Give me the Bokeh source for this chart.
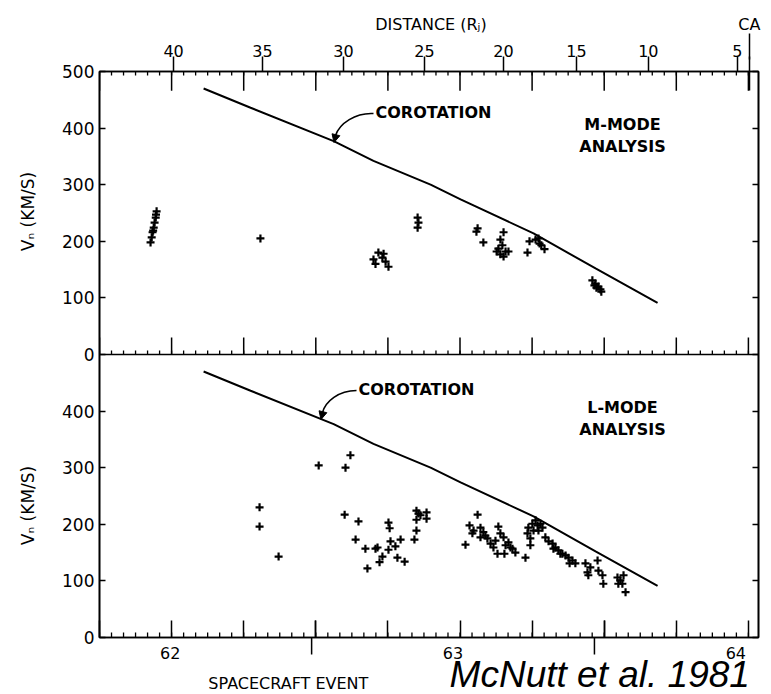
import numpy as np
from bokeh.plotting import figure
from bokeh.layouts import column
from bokeh.models import Range1d, LinearAxis, FixedTicker, Span, Label, Arrow, NormalHead
from bokeh.core.properties import value
from bokeh.embed import file_html
from bokeh.resources import INLINE

# ---------------- data ----------------
# corotation speed curve (spacecraft event [day], km/s)
corot_day = [62.111, 62.274, 62.562, 62.700, 62.898, 63.002, 63.255, 63.470, 63.685]
corot_v = [470, 436, 377, 342, 300, 274, 214, 152, 91]

# M-mode analysis (top panel)
m_day = [61.948, 61.946, 61.945, 61.941, 61.938, 61.936, 61.934, 61.931, 61.927,
         62.308,
         62.700, 62.707, 62.717, 62.731, 62.735, 62.742, 62.752,
         62.853, 62.856, 62.853,
         63.061, 63.057, 63.081, 63.151, 63.140, 63.147, 63.133, 63.158, 63.140,
         63.168, 63.151, 63.127, 63.234, 63.241, 63.262, 63.272, 63.282, 63.293, 63.276,
         63.459, 63.470, 63.480, 63.487, 63.473, 63.490, 63.466]
m_v = [253, 247, 242, 233, 224, 219, 216, 207, 198,
       205,
       168, 160, 180, 171, 178, 164, 155,
       242, 233, 224,
       223, 217, 198, 216, 203, 193, 187, 182, 177,
       182, 173, 182, 180, 200, 203, 205, 193, 186, 196,
       131, 125, 120, 115, 118, 111, 122]

# L-mode analysis (bottom panel)
l_day = [62.510, 62.603, 62.620, 62.305, 62.305, 62.371,
         62.600, 62.648, 62.638, 62.672, 62.714, 62.707, 62.752, 62.756, 62.759, 62.794,
         62.752, 62.776, 62.731, 62.721, 62.679, 62.783, 62.808,
         62.849, 62.856, 62.884, 62.884, 62.849, 62.849, 62.842, 62.863,
         63.061, 63.019, 63.033, 63.047, 63.071, 63.081, 63.095, 63.106, 63.116, 63.130,
         63.133, 63.140, 63.151, 63.158, 63.168, 63.182, 63.192, 63.154, 63.227, 63.071,
         63.088, 63.043, 63.123, 63.175,
         63.234, 63.237, 63.244, 63.251, 63.262, 63.269, 63.272, 63.279, 63.255, 63.244, 63.286,
         63.296, 63.307, 63.321, 63.331, 63.341, 63.355, 63.366, 63.376, 63.390, 63.400,
         63.380, 63.348, 63.324,
         63.435, 63.442, 63.452, 63.477, 63.480, 63.494, 63.497, 63.445,
         63.546, 63.556, 63.567, 63.563, 63.574, 63.549]
l_v = [304, 300, 322, 230, 196, 143,
       217, 205, 173, 157, 159, 157, 203, 193, 170, 173,
       155, 161, 143, 133, 122, 141, 134,
       224, 219, 221, 210, 208, 189, 173, 216,
       217, 164, 198, 189, 194, 186, 175, 166, 159, 148,
       196, 184, 177, 163, 168, 157, 150, 148, 141, 177,
       180, 184, 171, 159,
       184, 194, 175, 201, 207, 198, 189, 201, 189, 163, 194,
       177, 170, 166, 159, 154, 148, 145, 141, 136, 131,
       131, 148, 157,
       131, 115, 124, 136, 118, 110, 95, 110,
       106, 101, 110, 95, 80, 95]

# tick labels
y_ticks = [0, 100, 200, 300, 400, 500]
event_ticks = [62, 63, 64]
event_labels = ["62", "63", "64"]
dist_labels = ["40", "35", "30", "25", "20", "15", "10", "5"]
dist_pos = [62.007, 62.315, 62.596, 62.877, 63.151, 63.404, 63.653, 63.962]
ca_pos = 64.003

# ---------------- layout constants ----------------
X0, X1 = 61.75, 64.035
PXD = 288.4            # pixels per day
FONT = "DejaVu Sans"
MAIN_H = 652           # main canvas height (frame bottom at 637)
FOOT_TOP = 637         # footer strip overlaps the main canvas below the frame

six_h = [float(v) for v in np.arange(X0, 64.001, 0.25)]
hourly = [X0 + i / 24 for i in range(int((X1 - X0) * 24) + 1)]
crossing = [62.5, 63.5]
n6, nh = len(six_h), len(hourly)

# main figure: bottom panel on the default range (0..1000 -> lower half shows 0..500),
# top panel on the "top" range (-500..500 -> upper half shows 0..500)
p = figure(width=771, height=MAIN_H, x_range=Range1d(X0, X1), y_range=Range1d(0, 1000),
           output_backend="svg", toolbar_location=None,
           x_axis_location=None, y_axis_location=None,
           min_border_left=99, min_border_right=13, min_border_top=71,
           min_border_bottom=MAIN_H - 637)
p.extra_y_ranges = {"top": Range1d(-500, 500)}
p.grid.visible = False
p.outline_line_color = "black"
p.outline_line_width = 1.6
p.background_fill_color = "white"
p.border_fill_color = None


def style_ticks(ax, tin, tout, min_in=0, min_out=0):
    ax.major_tick_in = tin
    ax.major_tick_out = tout
    ax.minor_tick_in = min_in
    ax.minor_tick_out = min_out
    ax.major_tick_line_width = 1.5
    ax.minor_tick_line_width = 1.5
    ax.major_tick_line_color = "black"
    ax.minor_tick_line_color = "black"
    ax.axis_line_width = 1.6
    ax.axis_line_color = "black"
    ax.major_label_text_font = FONT
    ax.major_label_text_color = "black"


# left axis with both panels' scales
left_ticks = y_ticks[:-1] + [v + 500 for v in y_ticks]
left_over = {t: str(t) for t in y_ticks[:-1]}
left_over.update({v + 500: str(v) for v in y_ticks})
ax_l = LinearAxis(ticker=FixedTicker(ticks=left_ticks, minor_ticks=[]),
                  major_label_overrides=left_over)
style_ticks(ax_l, 6, 0)
ax_l.major_label_standoff = 5
ax_l.major_label_text_font_size = "17px"
p.add_layout(ax_l, "left")

# outer left axis carrying the two panel titles
vlab_pos = [(637 - 211) / 0.566, (637 - 505) / 0.566]
ax_l2 = LinearAxis(ticker=FixedTicker(ticks=vlab_pos, minor_ticks=[]),
                   major_label_overrides={v: "Vₙ (KM/S)" for v in vlab_pos})
style_ticks(ax_l2, 0, 0)
ax_l2.axis_line_color = None
ax_l2.major_label_orientation = "vertical"
ax_l2.major_label_standoff = 22
ax_l2.major_label_text_font_size = "17px"
p.add_layout(ax_l2, "left")

ax_r = LinearAxis(ticker=FixedTicker(ticks=left_ticks, minor_ticks=[]),
                  major_label_overrides={t: "" for t in left_ticks})
style_ticks(ax_r, 6, 0)
ax_r.major_label_standoff = 0
ax_r.major_label_text_font_size = "0px"
p.add_layout(ax_r, "right")

# top axis: distance ticks, closest-approach tick as minor tick
ax_t = LinearAxis(ticker=FixedTicker(ticks=dist_pos, minor_ticks=[ca_pos]),
                  major_label_overrides={pos: lab for pos, lab in zip(dist_pos, dist_labels)})
style_ticks(ax_t, 0, 15, 19, 15)
ax_t.major_label_standoff = 0
ax_t.major_label_text_font_size = "16px"
p.add_layout(ax_t, "above")

# header row: axis title + "CA" label (tick continues the CA mark)
dist_title_x = X0 + (433 - 99) / PXD
ax_h = LinearAxis(ticker=FixedTicker(ticks=[dist_title_x, ca_pos], minor_ticks=[ca_pos]),
                  major_label_overrides={dist_title_x: "DISTANCE  (Rⱼ)", ca_pos: "CA"})
style_ticks(ax_h, 0, 0, 18, 8)
ax_h.axis_line_color = None
ax_h.major_label_standoff = 0
ax_h.major_label_text_font_size = "16px"
p.add_layout(ax_h, "above")

# bottom axis: ticks only (labels live in the footer strip)
ax_b = LinearAxis(ticker=FixedTicker(ticks=six_h, minor_ticks=crossing),
                  major_label_overrides={t: "" for t in six_h})
style_ticks(ax_b, 17, 0, 17, 0)
ax_b.major_label_standoff = 0
ax_b.major_label_text_font_size = "0px"
p.add_layout(ax_b, "below")

# panel divider
p.add_layout(Span(location=500, dimension="width", line_color="black", line_width=1.6))

# tick marks drawn inside the frames
p.segment(x0=six_h, y0=[500] * n6, x1=six_h, y1=[466] * n6, line_color="black",
          line_width=1.5, y_range_name="top")
p.segment(x0=hourly, y0=[500] * nh, x1=hourly, y1=[493] * nh, line_color="black",
          line_width=1.3, y_range_name="top")
p.segment(x0=six_h, y0=[0] * n6, x1=six_h, y1=[30] * n6, line_color="black",
          line_width=1.5, y_range_name="top")
p.segment(x0=hourly, y0=[0] * nh, x1=hourly, y1=[7] * nh, line_color="black",
          line_width=1.3, y_range_name="top")
p.segment(x0=hourly, y0=[0] * nh, x1=hourly, y1=[9] * nh, line_color="black",
          line_width=1.3)

# corotation curves and measured speeds
p.line(corot_day, corot_v, line_color="black", line_width=2, y_range_name="top")
p.line(corot_day, corot_v, line_color="black", line_width=2)
p.scatter(m_day, m_v, marker="cross", size=8, line_width=2.2, color="black", y_range_name="top")
p.scatter(l_day, l_v, marker="cross", size=8, line_width=2.2, color="black")


# ---------------- annotations inside the panels ----------------
def conv_top(px, py):
    return X0 + (px - 99) / PXD, (353 - py) / 0.566


def conv_bot(px, py):
    return X0 + (px - 99) / PXD, (637 - py) / 0.566


def add_corot(conv, rng, text_px, curve_px, head_px):
    tx, ty = conv(*text_px)
    p.add_layout(Label(x=tx, y=ty, y_range_name=rng, text="COROTATION", text_align="left",
                       text_baseline="middle", text_font=FONT, text_font_style="bold",
                       text_font_size="16px", text_color="black"))
    (ax0, ay0), (c0x, c0y), (c1x, c1y), (ax1, ay1) = [conv(*q) for q in curve_px]
    p.bezier(x0=[ax0], y0=[ay0], x1=[ax1], y1=[ay1], cx0=[c0x], cy0=[c0y],
             cx1=[c1x], cy1=[c1y], line_color="black", line_width=1.6, y_range_name=rng)
    (hx0, hy0), (hx1, hy1) = [conv(*q) for q in head_px]
    p.add_layout(Arrow(end=NormalHead(size=8, fill_color="black", line_color="black"),
                       x_start=hx0, y_start=hy0, x_end=hx1, y_end=hy1,
                       line_color="black", line_width=1.6, y_range_name=rng))


add_corot(conv_top, "top", (375, 111),
          [(373, 112), (355, 111), (339, 122), (335, 134)], [(335.5, 133), (333.5, 141)])
add_corot(conv_bot, "default", (358, 389),
          [(356, 390), (338, 390), (325, 401), (322, 412)], [(322.5, 411), (320.5, 419)])

for conv, rng, l1, y1, y2 in [(conv_top, "top", "M-MODE", 123, 145),
                              (conv_bot, "default", "L-MODE", 407, 429)]:
    for txt, py in [(l1, y1), ("ANALYSIS", y2)]:
        tx, ty = conv(622, py)
        p.add_layout(Label(x=tx, y=ty, y_range_name=rng, text=txt, text_align="center",
                           text_baseline="middle", text_font=FONT, text_font_style="bold",
                           text_font_size="16px", text_color="black"))

# ---------------- footer strip: event labels, crossing ticks, captions ----------------
FOOT_H = 694 - FOOT_TOP
foot = figure(width=771, height=FOOT_H, x_range=Range1d(X0, X1 + 13 / PXD),
              y_range=Range1d(0, FOOT_H), output_backend="svg",
              toolbar_location=None, x_axis_location=None, y_axis_location=None,
              min_border_left=99, min_border_right=0, min_border_top=0, min_border_bottom=0)
foot.margin = (FOOT_TOP - MAIN_H, 0, 0, 0)
foot.grid.visible = False
foot.outline_line_color = None
foot.background_fill_color = None
foot.border_fill_color = None

foot.segment(x0=crossing, y0=[FOOT_H] * len(crossing), x1=crossing,
             y1=[FOOT_H - 17] * len(crossing), line_color="black", line_width=1.5)
foot.text(x=event_ticks, y=[694 - 652] * len(event_ticks), text=event_labels,
          text_font=value(FONT), text_font_size=value("16px"), text_align="center",
          text_baseline="middle", text_color="black")
foot.text(x=[X0 + (210 - 99) / PXD], y=[694 - 683], text=["SPACECRAFT EVENT"],
          text_font=value(FONT), text_font_size=value("16px"), text_align="left",
          text_baseline="middle", text_color="black")
foot.text(x=[X0 + (456 - 99) / PXD], y=[694 - 674], text=["McNutt et al. 1981"],
          text_font=value("Liberation Sans"), text_font_style="italic",
          text_font_size=value("37px"), text_align="left", text_baseline="middle",
          text_color="black")

layout = column(p, foot, spacing=0)
open("out.html", "w").write(file_html(layout, INLINE))
